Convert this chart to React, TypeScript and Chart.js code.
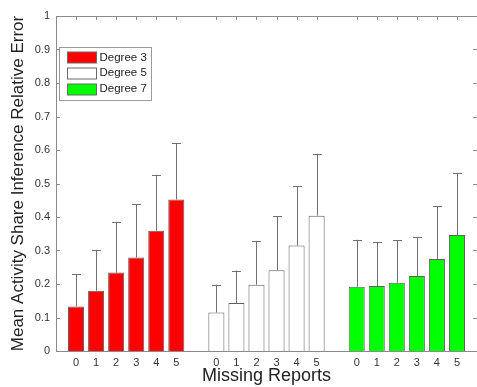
import React, { useEffect, useRef } from 'react';
import { Chart, registerables } from 'chart.js';

Chart.register(...registerables);

const FONT = 'Arial, "Liberation Sans", Helvetica, sans-serif';

// ---- data ----
const reportCounts = ['0', '1', '2', '3', '4', '5'];
const seriesLabels = ['Degree 3', 'Degree 5', 'Degree 7'];
const seriesColors = ['#ff0000', '#ffffff', '#00ff00'];

const degree3Mean = [0.133, 0.18, 0.234, 0.279, 0.359, 0.452];
const degree3Err = [0.097, 0.122, 0.152, 0.159, 0.167, 0.168];
const degree5Mean = [0.115, 0.143, 0.198, 0.241, 0.315, 0.404];
const degree5Err = [0.083, 0.097, 0.131, 0.161, 0.177, 0.185];
const degree7Mean = [0.192, 0.194, 0.204, 0.224, 0.275, 0.346];
const degree7Err = [0.14, 0.132, 0.126, 0.115, 0.157, 0.186];

const yMin = 0;
const yMax = 1;
const yStep = 0.1;

const xTitle = 'Missing Reports';
const yTitle = 'Mean Activity Share Inference Relative Error';

// category slots: one empty slot before, between and after the groups
const xLabels = ['', ...reportCounts, '', ...reportCounts, '', ...reportCounts, ''];
const placeInGroup = (group: number, arr: number[]) => {
  const out: (number | null)[] = new Array(xLabels.length).fill(null);
  arr.forEach((v, i) => {
    out[1 + group * (reportCounts.length + 1) + i] = v;
  });
  return out;
};

const means = [degree3Mean, degree5Mean, degree7Mean];
const errs = [degree3Err, degree5Err, degree7Err];

const frameColor = '#8a8a8a';

const framePlugin = {
  id: 'matlabFrame',
  beforeDatasetsDraw(chart: any) {
    const { ctx, chartArea } = chart;
    const xs = chart.scales.x;
    const ys = chart.scales.y;
    const L = 4;
    ctx.save();
    ctx.strokeStyle = frameColor;
    ctx.lineWidth = 1;
    ctx.beginPath();
    // top border
    ctx.moveTo(chartArea.left, Math.round(chartArea.top) + 0.5);
    ctx.lineTo(chartArea.right, Math.round(chartArea.top) + 0.5);
    // x ticks (top and bottom, inward)
    xs.ticks.forEach((t: any, i: number) => {
      if (!xLabels[i]) return;
      const px = Math.round(xs.getPixelForTick(i)) + 0.5;
      ctx.moveTo(px, chartArea.top);
      ctx.lineTo(px, chartArea.top + L);
      ctx.moveTo(px, chartArea.bottom);
      ctx.lineTo(px, chartArea.bottom - L);
    });
    // y ticks (left and right, inward)
    ys.ticks.forEach((t: any, i: number) => {
      const py = Math.round(ys.getPixelForTick(i)) + 0.5;
      ctx.moveTo(chartArea.left, py);
      ctx.lineTo(chartArea.left + L, py);
      ctx.moveTo(chartArea.right, py);
      ctx.lineTo(chartArea.right - L, py);
    });
    ctx.stroke();
    ctx.restore();
  },
};

const errorBarPlugin = {
  id: 'upperErrorBars',
  afterDatasetsDraw(chart: any) {
    const { ctx } = chart;
    const ys = chart.scales.y;
    ctx.save();
    ctx.strokeStyle = '#707070';
    ctx.lineWidth = 1;
    chart.data.datasets.forEach((ds: any, di: number) => {
      const meta = chart.getDatasetMeta(di);
      ds.data.forEach((v: number | null, i: number) => {
        if (v == null) return;
        const e = ds.errors[i];
        if (e == null) return;
        const bar = meta.data[i];
        const x = Math.round(bar.x) + 0.5;
        const yTop = ys.getPixelForValue(v + e);
        const yBar = ys.getPixelForValue(v);
        ctx.beginPath();
        ctx.moveTo(x, yBar);
        ctx.lineTo(x, yTop);
        ctx.moveTo(x - 4.5, Math.round(yTop) + 0.5);
        ctx.lineTo(x + 4.5, Math.round(yTop) + 0.5);
        ctx.stroke();
      });
    });
    ctx.restore();
  },
};

const legendPlugin = {
  id: 'boxLegend',
  afterDraw(chart: any) {
    const { ctx, chartArea } = chart;
    const x0 = Math.round(chartArea.left) + 3.5;
    const y0 = Math.round(chartArea.top) + 31.5;
    const w = 92;
    const h = 53;
    ctx.save();
    ctx.fillStyle = '#ffffff';
    ctx.fillRect(x0, y0, w, h);
    ctx.strokeStyle = '#9a9a9a';
    ctx.lineWidth = 1;
    ctx.strokeRect(x0, y0, w, h);
    ctx.font = `11.5px ${FONT}`;
    ctx.textBaseline = 'middle';
    chart.data.datasets.forEach((ds: any, i: number) => {
      const cy = y0 + 10 + i * 15.8;
      ctx.fillStyle = ds.backgroundColor;
      ctx.fillRect(x0 + 8, Math.round(cy - 5.5), 29, 11);
      ctx.strokeStyle = '#6a6a6a';
      ctx.strokeRect(x0 + 8, Math.round(cy - 5.5), 29, 11);
      ctx.fillStyle = '#222';
      ctx.fillText(ds.label, x0 + 40, cy);
    });
    ctx.restore();
  },
};

export default function App() {
  const ref = useRef<HTMLCanvasElement | null>(null);

  useEffect(() => {
    document.body.style.margin = '0';
    const canvas = ref.current;
    if (!canvas) return;
    const chart = new Chart(canvas, {
      type: 'bar',
      data: {
        labels: xLabels,
        datasets: seriesLabels.map((label, g) => ({
          label,
          data: placeInGroup(g, means[g]),
          errors: placeInGroup(g, errs[g]),
          backgroundColor: seriesColors[g],
          borderColor: '#5e5e5e',
          borderWidth: 1,
          categoryPercentage: 1,
          barPercentage: 0.8,
          grouped: false,
        })) as any,
      },
      options: {
        responsive: false,
        animation: false,
        events: [],
        layout: { padding: { top: 16, right: 0, left: 0, bottom: 0 } },
        plugins: {
          legend: { display: false },
          tooltip: { enabled: false },
        },
        scales: {
          x: {
            type: 'category',
            offset: false,
            grid: { display: false, drawTicks: false },
            border: { display: true, color: frameColor, width: 1 },
            ticks: {
              autoSkip: false,
              maxRotation: 0,
              minRotation: 0,
              padding: 5,
              color: '#333',
              font: { family: FONT, size: 11 },
            },
            title: {
              display: true,
              text: xTitle,
              color: '#222',
              font: { family: FONT, size: 18 },
              padding: { top: 0, bottom: 0 },
            },
            afterFit: (s: any) => {
              s.height = 36;
              s.paddingLeft = 0;
              s.paddingRight = 0;
            },
          },
          y: {
            min: yMin,
            max: yMax,
            grid: { display: false, drawTicks: false },
            border: { display: true, color: frameColor, width: 1 },
            ticks: {
              stepSize: yStep,
              padding: 6,
              color: '#333',
              font: { family: FONT, size: 11 },
              callback: (v: any) => String(Number(Number(v).toFixed(1))),
            },
            title: {
              display: true,
              text: yTitle,
              color: '#222',
              font: { family: FONT, size: 17 },
              padding: { top: 8, bottom: 0 },
            },
            afterFit: (s: any) => {
              s.width = 56;
            },
          },
        },
      },
      plugins: [framePlugin, errorBarPlugin, legendPlugin],
    });
    return () => chart.destroy();
  }, []);

  return (
    <div style={{ width: 477, height: 387, background: '#fff' }}>
      <canvas ref={ref} width={477} height={387} style={{ display: 'block' }} />
    </div>
  );
}
